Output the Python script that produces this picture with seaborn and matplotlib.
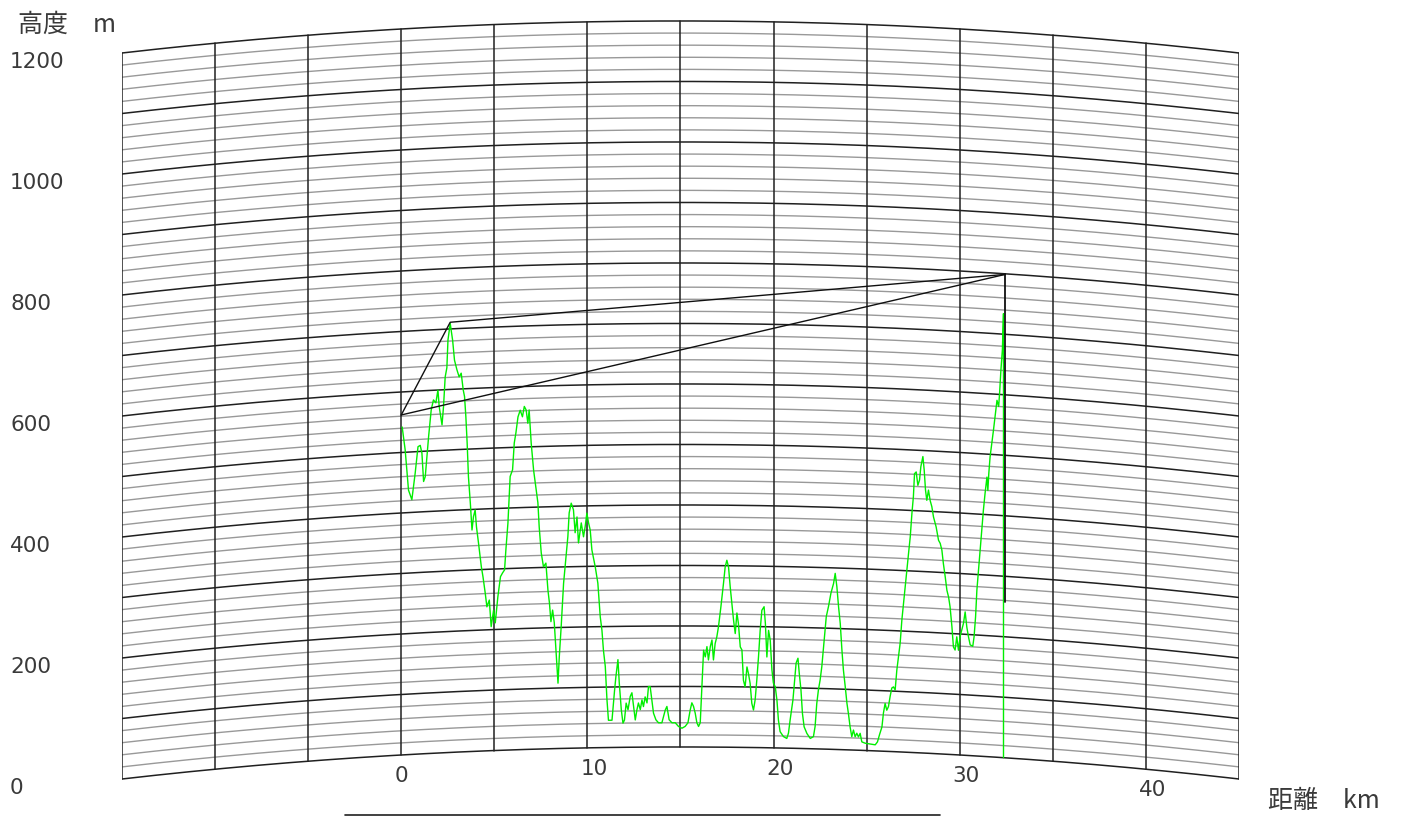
import numpy as np
import pandas as pd
import matplotlib
matplotlib.use("Agg")
import matplotlib.pyplot as plt
from matplotlib.lines import Line2D
import seaborn as sns

# terrain profile (distance km, elevation m)
dist_km = [0.05, 0.21, 0.39, 0.57, 0.75, 0.90, 1.02, 1.11, 1.20, 1.29,
           1.38, 1.47, 1.61, 1.73, 1.86, 1.97, 2.04, 2.19, 2.27, 2.36,
           2.45, 2.51, 2.63, 2.76, 2.86, 2.99, 3.11, 3.22, 3.33, 3.40,
           3.47, 3.54, 3.61, 3.71, 3.80, 3.88, 3.97, 4.04, 4.15, 4.30,
           4.39, 4.51, 4.60, 4.73, 4.83, 4.96, 5.05, 5.19, 5.33, 5.44,
           5.55, 5.62, 5.73, 5.85, 5.98, 6.07, 6.16, 6.27, 6.39, 6.51,
           6.61, 6.71, 6.80, 6.87, 6.98, 7.11, 7.20, 7.34, 7.41, 7.52,
           7.64, 7.77, 7.88, 7.96,
           8.04, 8.13, 8.22, 8.31, 8.42, 8.49, 8.59, 8.72, 8.85, 8.95,
           9.02, 9.13, 9.25, 9.34, 9.44, 9.52, 9.67, 9.79, 9.88, 9.97,
           10.06, 10.15, 10.24, 10.42, 10.56, 10.69, 10.78, 10.86, 10.96, 11.05,
           11.13, 11.32, 11.46, 11.53, 11.64, 11.71, 11.82, 11.91, 11.99, 12.08,
           12.18, 12.30, 12.39, 12.48, 12.57, 12.66, 12.74, 12.84, 12.93, 13.01,
           13.10, 13.20, 13.28, 13.37, 13.46, 13.55, 13.68, 13.82, 14.00, 14.18,
           14.27, 14.39, 14.54, 14.72, 14.89, 15.08, 15.25, 15.40, 15.52, 15.61,
           15.70, 15.79, 15.88, 15.97, 16.06, 16.15, 16.24, 16.33, 16.42, 16.50,
           16.60, 16.69, 16.77, 16.86, 16.95, 17.04, 17.17, 17.31, 17.40, 17.49,
           17.58, 17.67, 17.76, 17.85, 17.94, 18.03, 18.11, 18.21, 18.30, 18.38,
           18.47, 18.57, 18.65, 18.74, 18.83, 18.92, 19.01, 19.10, 19.19, 19.28,
           19.37, 19.49, 19.56, 19.64, 19.73, 19.82, 19.91, 19.99, 20.09, 20.18,
           20.26, 20.35, 20.53, 20.71, 20.80, 20.89, 21.04, 21.13, 21.21, 21.31,
           21.38, 21.47, 21.55, 21.64, 21.79, 21.97, 22.14, 22.23, 22.32, 22.41,
           22.50, 22.59, 22.72, 22.83, 22.95, 23.08, 23.22, 23.31, 23.40, 23.49,
           23.58, 23.67, 23.75, 23.85, 23.94, 24.02, 24.11, 24.20, 24.29, 24.38,
           24.47, 24.56, 24.65, 24.74, 24.92, 25.19, 25.46, 25.58, 25.69, 25.82,
           25.90, 25.99, 26.08, 26.17, 26.26, 26.35, 26.44, 26.53, 26.62, 26.71,
           26.80, 26.89, 26.98, 27.07, 27.16, 27.25, 27.34, 27.43, 27.51, 27.57,
           27.66, 27.75, 27.84, 27.91, 28.02, 28.09, 28.16, 28.23, 28.32, 28.41,
           28.50, 28.59, 28.73, 28.86, 28.95, 29.04, 29.12, 29.22, 29.31, 29.40,
           29.48, 29.58, 29.66, 29.75, 29.84, 29.93, 30.02, 30.11, 30.20, 30.29,
           30.38, 30.47, 30.56, 30.70, 30.77, 30.85, 30.92, 31.01, 31.10, 31.19,
           31.27, 31.36, 31.46, 31.51, 31.56, 31.63, 31.72, 31.81,
           32.00, 32.09, 32.14, 32.21, 32.29, 32.35, 32.35]
elev_m = [542, 504, 437, 421, 465, 508, 510, 497, 450, 458,
          491, 524, 568, 584, 579, 600, 572, 542, 572, 621,
          636, 682, 709, 681, 648, 632, 620, 626, 598, 587,
          554, 510, 454, 411, 366, 388, 399, 371, 344, 305,
          288, 261, 238, 249, 205, 232, 211, 254, 287, 293,
          298, 331, 375, 452, 463, 507, 524, 550, 561, 550,
          567, 561, 539, 561, 506, 461, 440, 407, 367, 324,
          301, 307, 262, 241,
          210, 229, 208, 163, 108, 152, 201, 273, 317, 350,
          389, 405, 394, 356, 382, 339, 372, 349, 366, 388,
          372, 360, 327, 299, 272, 216, 194, 161, 134, 79,
          45, 45, 95, 117, 145, 107, 62, 40, 45, 73,
          62, 84, 90, 67, 45, 62, 73, 62, 78, 67,
          83, 73, 100, 100, 78, 56, 45, 40, 40, 61,
          67, 45, 40, 40, 34, 31, 34, 40, 61, 73,
          67, 56, 40, 34, 40, 100, 160, 149, 166, 144,
          166, 177, 144, 171, 182, 199, 232, 271, 298, 309,
          298, 265, 238, 210, 188, 222, 205, 166, 161, 111,
          100, 133, 122, 106, 73, 62, 79, 112, 150, 194,
          227, 233, 205, 150, 194, 178, 129, 107, 101, 79,
          46, 27, 19, 16, 25, 47, 80, 113, 141, 149,
          124, 97, 58, 36, 25, 17, 20, 37, 75, 98,
          114, 136, 180, 219, 236, 258, 274, 291, 269, 236,
          209, 165, 132, 104, 77, 60, 38, 22, 33, 22,
          28, 22, 28, 14, 12, 11, 10, 15, 27, 40,
          63, 79, 68, 74, 91, 105, 107, 102, 135, 157,
          180, 218, 246, 273, 301, 329, 356, 395, 423, 461,
          464, 442, 451, 473, 490, 468, 435, 418, 435, 418,
          408, 391, 375, 353, 348, 337, 315, 293, 271, 260,
          244, 211, 178, 173, 195, 173, 196, 207, 218, 237,
          212, 196, 183, 181, 197, 230, 274, 308, 341, 374,
          407, 435, 462, 440, 468, 496, 518, 540,
          590, 580, 602, 640, 674, 734, 0]

# line of sight: transmitter, ridge, receiver (km, m)
ray_km = [0.0, 2.63, 32.44]
ray_m = [562, 711, 799]
mast_km = [32.44, 32.44]
mast_m = [799, 258]

x_min, x_max = -15, 45
x_grid = list(range(-15, 50, 5))
h_minor = list(range(0, 1220, 20))
h_major = list(range(0, 1300, 100))
x_ticks = [0, 10, 20, 30, 40]
y_ticks = [0, 200, 400, 600, 800, 1000, 1200]
R_eff = 8500.0  # 4/3 earth radius, km


def bulge(x):
    x = np.asarray(x, dtype=float)
    return (x - x_min) * (x_max - x) / (2 * R_eff) * 1000.0


sns.set_style("white")
plt.rcParams['font.family'] = ['DejaVu Sans']

fig = plt.figure(figsize=(14.01, 8.16), dpi=100)
ax = fig.add_axes([122 / 1401, 0, 1117 / 1401, 1])
ax.set_xlim(x_min, x_max)
ax.set_ylim(-61.16, 1287.6)
ax.axis('off')

xs = np.linspace(x_min, x_max, 400)
for h in h_minor:
    if h % 100 == 0:
        continue
    ax.plot(xs, h + bulge(xs), color='#999999', lw=1.0, zorder=1)
for h in h_major:
    if h > 1200:
        continue
    ax.plot(xs, h + bulge(xs), color='#202020', lw=1.1, zorder=2)
for x in x_grid:
    b = float(bulge(x))
    ax.plot([x, x], [b, 1200 + b], color='#202020', lw=1.1, zorder=2)

prof = pd.DataFrame({'km': dist_km, 'm': elev_m})
prof['disp'] = prof['m'] + bulge(prof['km'])
sns.lineplot(data=prof, x='km', y='disp', sort=False, estimator=None,
             color='#00ee00', lw=1.0, ax=ax, zorder=4)

ray = pd.DataFrame({'km': ray_km, 'm': ray_m})
ray['disp'] = ray['m'] + bulge(ray['km'])
sns.lineplot(data=ray, x='km', y='disp', sort=False, estimator=None,
             color='#101010', lw=1.0, ax=ax, zorder=5)
ax.plot([ray_km[0], ray_km[-1]], list(ray['disp'].iloc[[0, -1]]),
        color='#101010', lw=1.0, zorder=5)
ax.plot(mast_km, np.array(mast_m) + bulge(mast_km), color='#101010', lw=1.3, zorder=5)
ax.set_xlabel('')
ax.set_ylabel('')

for t in x_ticks:
    ax.annotate(str(t), xy=(t, float(bulge(t))), xytext=(-7, -21),
                textcoords='offset pixels', ha='left', va='center',
                fontsize=15.5, color='#3a3a3a', annotation_clip=False)
for v in y_ticks:
    ax.annotate(str(v), xy=(x_min, v), xytext=(-112, -9),
                textcoords='offset pixels', ha='left', va='center',
                fontsize=15.5, color='#3a3a3a', annotation_clip=False)

cjk = ['Noto Sans CJK JP', 'DejaVu Sans']
fig.text(18 / 1401, 1 - 25 / 816, '高度\u3000m', family=cjk, fontsize=18,
         color='#3a3a3a', ha='left', va='center')
fig.text(1268 / 1401, 1 - 801 / 816, '距離\u3000km', family=cjk, fontsize=18,
         color='#3a3a3a', ha='left', va='center')

fig.add_artist(Line2D([345 / 1401, 940 / 1401], [1 - 815 / 816] * 2,
                      color='#202020', lw=1.2))

fig.savefig('out.png', dpi=100)
